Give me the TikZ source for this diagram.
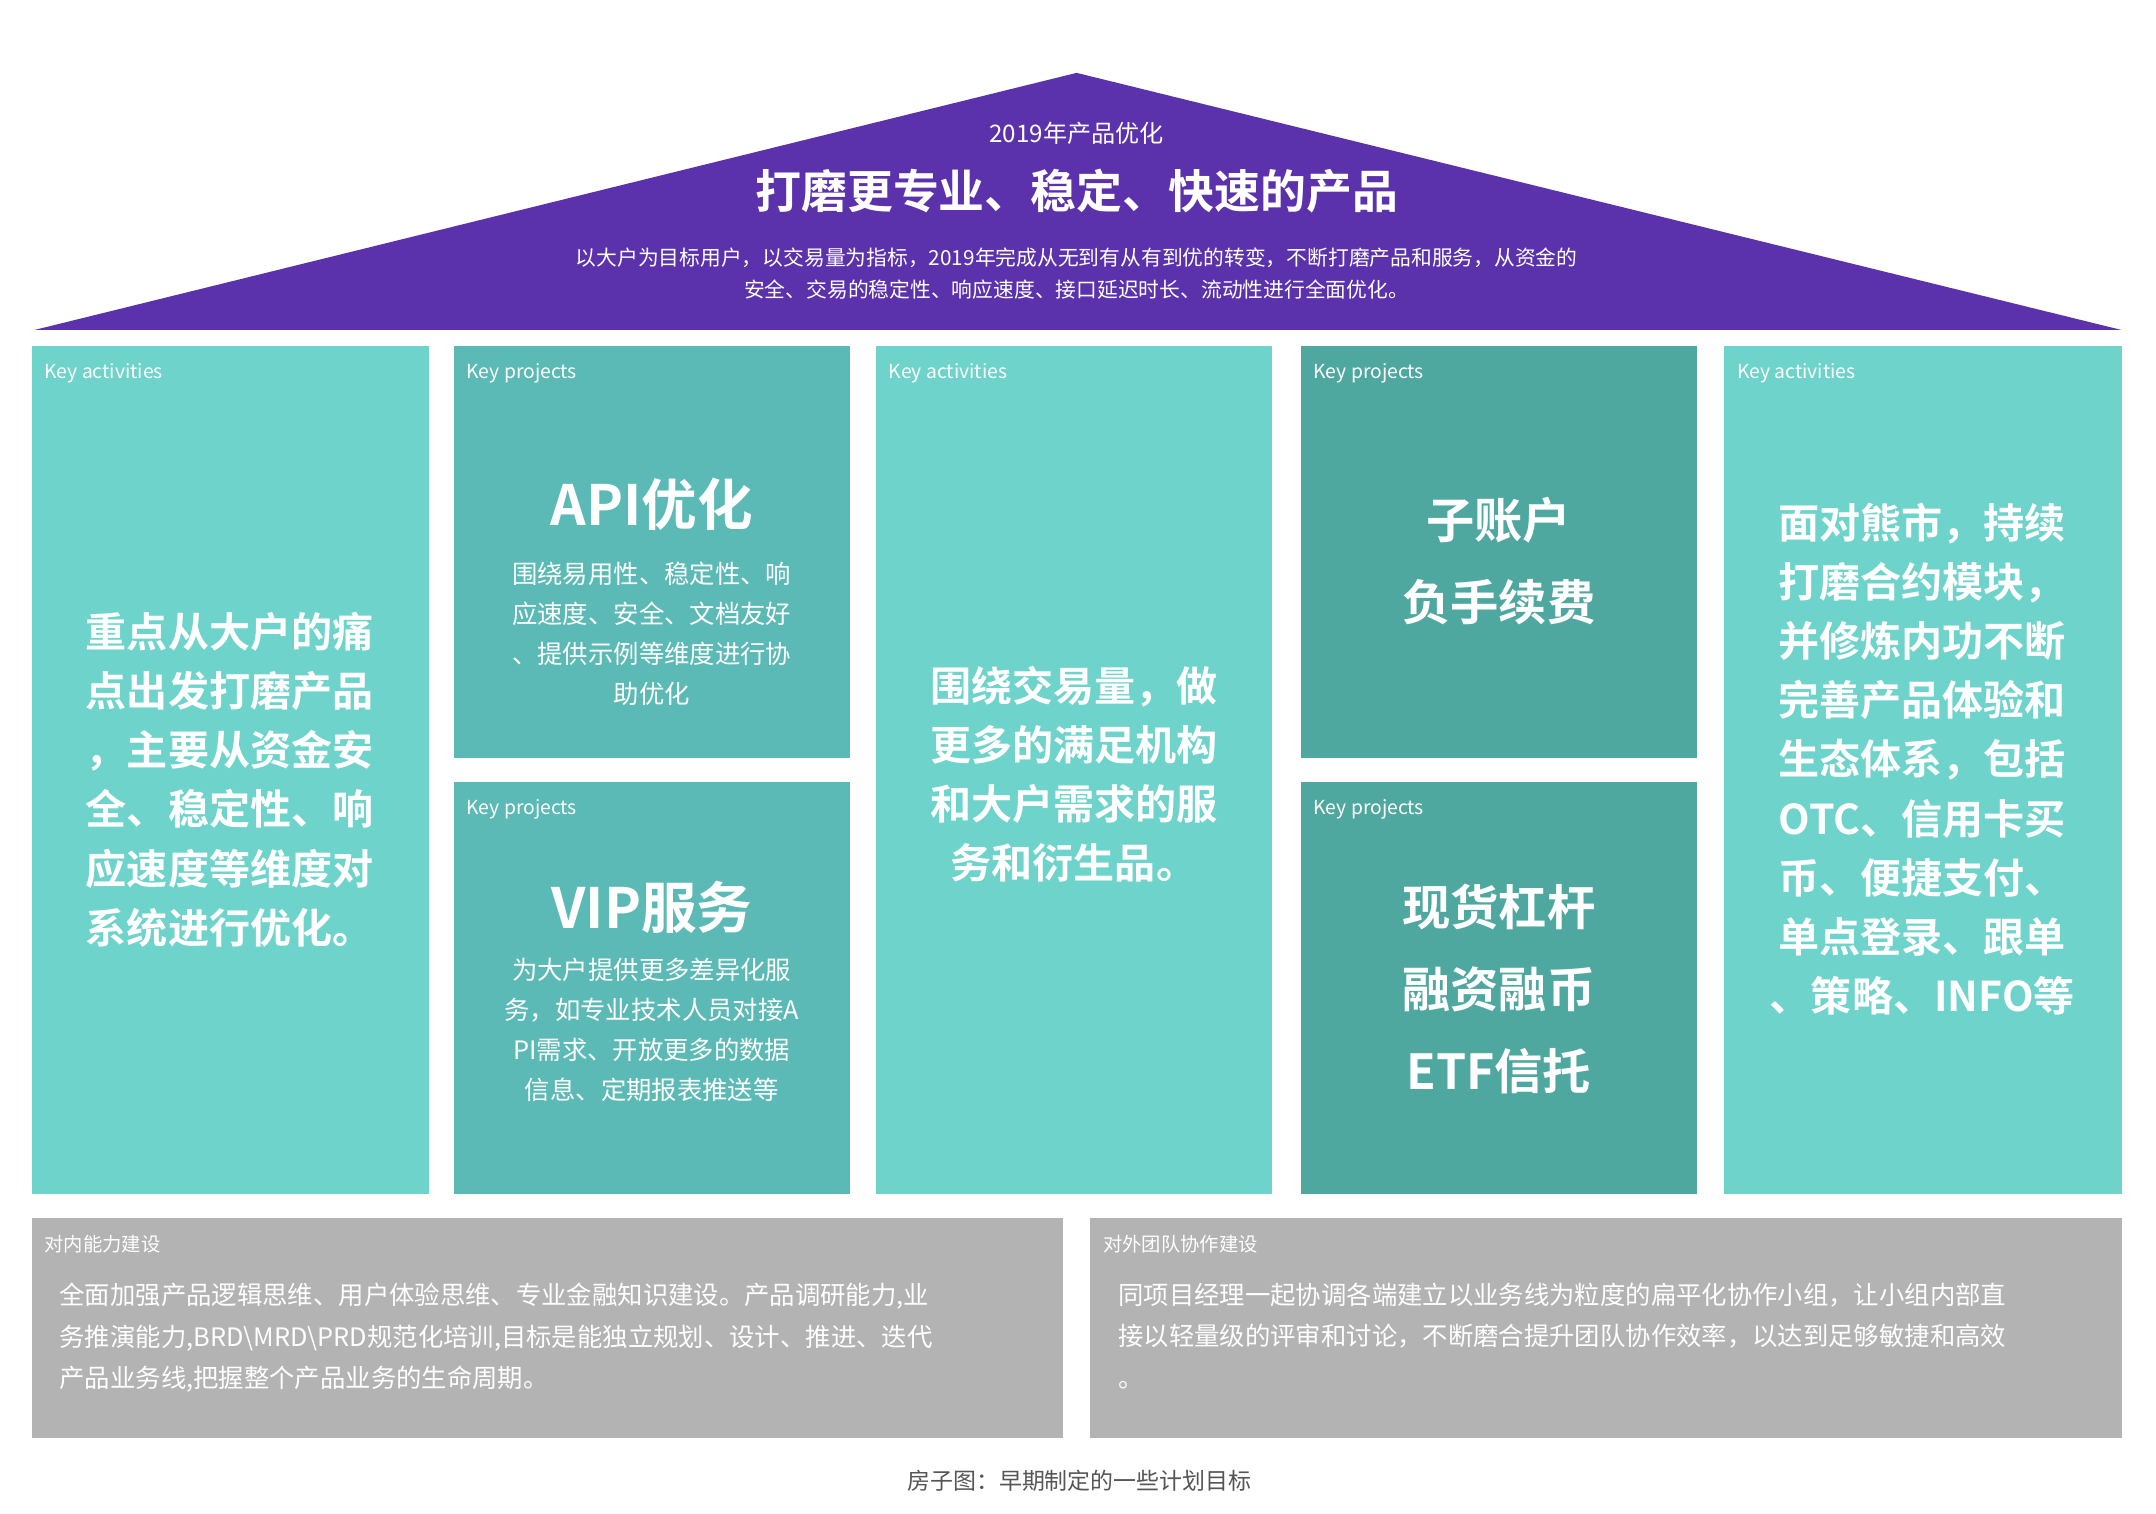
\documentclass[tikz,border=0pt]{standalone}
\usepackage{fontspec}
\setmainfont{Noto Sans CJK SC}[BoldFont={Noto Sans CJK SC Bold}]
\definecolor{roof}{HTML}{5B32AB}
\definecolor{cA}{HTML}{6DD3CB}
\definecolor{cB}{HTML}{5BBAB5}
\definecolor{cC}{HTML}{4FA8A0}
\definecolor{gry}{HTML}{B3B3B3}
\definecolor{cap}{HTML}{555555}
\begin{document}
\begin{tikzpicture}[x=0.02cm,y=-0.02cm,
  lbl/.style={anchor=north west,text=white,font=\fontsize{8}{10}\selectfont,inner sep=0},
  big/.style={text=white,font=\fontsize{17}{24.5}\selectfont\bfseries,align=center},
  mid/.style={text=white,font=\fontsize{10.5}{16.5}\selectfont,align=center},
  bot/.style={anchor=north west,text=white,font=\fontsize{10.5}{17}\selectfont,align=left,inner sep=0}]
\useasboundingbox (0,0) rectangle (1568,1101);
\fill[roof] (25,240) -- (783,53) -- (1543,240) -- cycle;
\node[text=white,font=\fontsize{10}{12}\selectfont] (r1) at (783,97) {2019年产品优化};
\node[text=white,font=\fontsize{19}{22}\selectfont\bfseries] (r2) at (783,139) {打磨更专业、稳定、快速的产品};
\node[text=white,font=\fontsize{8.6}{13.5}\selectfont,align=center] (r3) at (783,199) {以大户为目标用户，以交易量为指标，2019年完成从无到有从有到优的转变，不断打磨产品和服务，从资金的\\安全、交易的稳定性、响应速度、接口延迟时长、流动性进行全面优化。};
% columns
\fill[cA] (23,252) rectangle (312,868);
\fill[cB] (330,252) rectangle (618,551);
\fill[cB] (330,569) rectangle (618,868);
\fill[cA] (637,252) rectangle (925,868);
\fill[cC] (946,252) rectangle (1234,551);
\fill[cC] (946,569) rectangle (1234,868);
\fill[cA] (1254,252) rectangle (1543,868);
\node[lbl] (l1) at (32,264) {Key activities};
\node[lbl] (l2) at (339,264) {Key projects};
\node[lbl] (l3) at (339,581) {Key projects};
\node[lbl] (l4) at (646,264) {Key activities};
\node[lbl] (l5) at (955,264) {Key projects};
\node[lbl] (l6) at (955,581) {Key projects};
\node[lbl] (l7) at (1263,264) {Key activities};
\node[big] (t1) at (167,567) {重点从大户的痛\\点出发打磨产品\\，主要从资金安\\全、稳定性、响\\应速度等维度对\\系统进行优化。};
\node[text=white,font=\fontsize{23}{26}\selectfont\bfseries] (t2a) at (474,367) {API优化};
\node[mid] (t2b) at (474,461) {围绕易用性、稳定性、响\\应速度、安全、文档友好\\、提供示例等维度进行协\\助优化};
\node[text=white,font=\fontsize{23}{26}\selectfont\bfseries] (t3a) at (474,660) {VIP服务};
\node[mid] (t3b) at (474,749) {为大户提供更多差异化服\\务，如专业技术人员对接A\\PI需求、开放更多的数据\\信息、定期报表推送等};
\node[big] (t4) at (781,563) {围绕交易量，做\\更多的满足机构\\和大户需求的服\\务和衍生品。};
\node[text=white,font=\fontsize{20}{34}\selectfont\bfseries,align=center] (t5) at (1090,408) {子账户\\负手续费};
\node[text=white,font=\fontsize{20}{34}\selectfont\bfseries,align=center] (t6) at (1090,719) {现货杠杆\\融资融币\\ETF信托};
\node[big] (t7) at (1398,552) {面对熊市，持续\\打磨合约模块，\\并修炼内功不断\\完善产品体验和\\生态体系，包括\\OTC、信用卡买\\币、便捷支付、\\单点登录、跟单\\、策略、INFO等};
% bottom
\fill[gry] (23,886) rectangle (773,1046);
\fill[gry] (793,886) rectangle (1543,1046);
\node[lbl] (b1) at (32,898) {对内能力建设};
\node[lbl] (b2) at (802,898) {对外团队协作建设};
\node[bot] (b3) at (43,933) {全面加强产品逻辑思维、用户体验思维、专业金融知识建设。产品调研能力,业\\务推演能力,BRD\textbackslash MRD\textbackslash PRD规范化培训,目标是能独立规划、设计、推进、迭代\\产品业务线,把握整个产品业务的生命周期。};
\node[bot] (b4) at (813,933) {同项目经理一起协调各端建立以业务线为粒度的扁平化协作小组，让小组内部直\\接以轻量级的评审和讨论，不断磨合提升团队协作效率，以达到足够敏捷和高效\\。};
\node[text=cap,font=\fontsize{9.5}{12}\selectfont] (c) at (785,1077) {房子图：早期制定的一些计划目标};
\end{tikzpicture}
\end{document}
